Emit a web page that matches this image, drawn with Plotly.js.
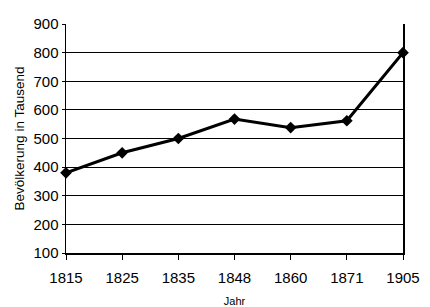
<!DOCTYPE html>
<html>
<head>
<meta charset="utf-8">
<script src="https://cdn.plot.ly/plotly-3.0.1.min.js"></script>
<style>html,body{margin:0;padding:0;background:#fff;}#chart{width:430px;height:307px;}</style>
</head>
<body>
<div id="chart"></div>
<script>
var years = ['1815', '1825', '1835', '1848', '1860', '1871', '1905'];
var population = [380, 450, 500, 568, 538, 562, 800];
var yTicks = [100, 200, 300, 400, 500, 600, 700, 800, 900];

var trace = {
  x: years,
  y: population,
  type: 'scatter',
  mode: 'lines+markers',
  line: {color: '#000', width: 3},
  marker: {symbol: 'diamond', size: 9, color: '#000'},
  cliponaxis: false,
  hoverinfo: 'x+y'
};

var layout = {
  width: 430,
  height: 307,
  margin: {l: 66, r: 27, t: 24, b: 54},
  paper_bgcolor: '#fff',
  plot_bgcolor: '#fff',
  showlegend: false,
  font: {family: 'Liberation Sans, Arial, sans-serif', color: '#000'},
  xaxis: {
    type: 'category',
    range: [0, 6],
    showgrid: false,
    zeroline: false,
    showline: true,
    linecolor: '#000',
    linewidth: 1.5,
    ticks: 'outside',
    ticklen: 5,
    tickcolor: '#000',
    ticklabelstandoff: 5,
    tickfont: {size: 15, color: '#000'},
    title: {text: 'Jahr', font: {size: 11, color: '#000'}, standoff: 13}
  },
  yaxis: {
    range: [100, 900],
    tickvals: yTicks,
    showgrid: true,
    gridcolor: '#000',
    gridwidth: 1,
    zeroline: false,
    showline: true,
    mirror: true,
    linecolor: '#000',
    linewidth: 1.5,
    ticks: 'outside',
    ticklen: 3,
    tickcolor: '#000',
    tickfont: {size: 15, color: '#000'},
    title: {text: 'Bevölkerung in Tausend', font: {size: 13.5, color: '#000'}, standoff: 5}
  }
};

Plotly.newPlot('chart', [trace], layout, {displayModeBar: false, staticPlot: true});
</script>
</body>
</html>
